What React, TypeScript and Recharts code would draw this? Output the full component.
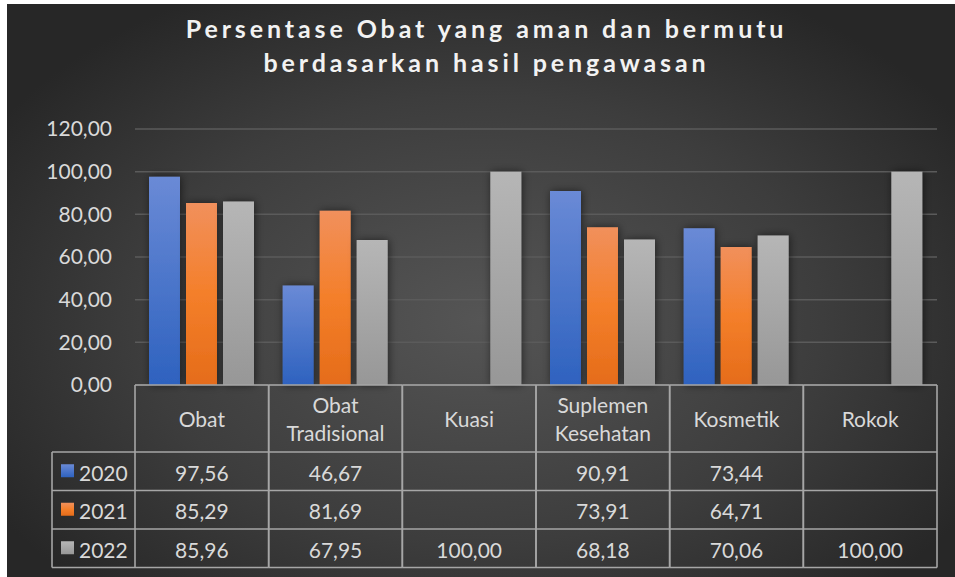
import React from "react";
import { BarChart, Bar, XAxis, YAxis, CartesianGrid } from "recharts";

const categories = ["Obat", "Obat Tradisional", "Kuasi", "Suplemen Kesehatan", "Kosmetik", "Rokok"];
const series2020 = [97.56, 46.67, null, 90.91, 73.44, null];
const series2021 = [85.29, 81.69, null, 73.91, 64.71, null];
const series2022 = [85.96, 67.95, 100.0, 68.18, 70.06, 100.0];
const yTicks = [0, 20, 40, 60, 80, 100, 120];
const seriesNames = ["2020", "2021", "2022"];

const data = categories.map((name, i) => ({
    name,
    y2020: series2020[i],
    y2021: series2021[i],
    y2022: series2022[i],
}));

const W = 955;
const H = 577;
const PLOT_LEFT = 135;
const PLOT_RIGHT = 937;
const TEXT = "#d9d9d9";
const LINE = "#a6a6a6";
const FONT = "Lato, 'Open Sans', sans-serif";
const seriesKeys = ["y2020", "y2021", "y2022"];
const swatch = ["url(#gBlue)", "url(#gOrange)", "url(#gGray)"];

const fmt = (v: number | null) => (v == null ? "" : v.toFixed(2).replace(".", ","));

// rows of the data table, measured from the top of the x axis
const HEADER_H = 67;
const ROW_H = 38.5;

function TableColumn(props: any) {
    const { x, y, index } = props;
    const bw = (PLOT_RIGHT - PLOT_LEFT) / categories.length;
    const left = x - bw / 2;
    const right = x + bw / 2;
    const lines = categories[index].split(" ");
    const rowsBottom = y + HEADER_H + ROW_H * 3;
    const lw = 1.6;
    return (
        <g fontFamily={FONT} fontSize={21} fill={TEXT}>
            {/* header */}
            {lines.map((t, k) => (
                <text
                    key={k}
                    x={x}
                    y={y + HEADER_H / 2 + (k - (lines.length - 1) / 2) * 28}
                    textAnchor="middle"
                    dominantBaseline="central"
                >
                    {t}
                </text>
            ))}
            {/* values */}
            {seriesKeys.map((k, r) => (
                <text
                    key={k}
                    x={x}
                    y={y + HEADER_H + ROW_H * r + ROW_H / 2 + 1}
                    textAnchor="middle"
                    dominantBaseline="central"
                >
                    {fmt(data[index][k as "y2020"])}
                </text>
            ))}
            {/* grid lines */}
            <line x1={left} x2={right} y1={y} y2={y} stroke={LINE} strokeWidth={lw} />
            {[0, 1, 2, 3].map((r) => (
                <line
                    key={r}
                    x1={left}
                    x2={right}
                    y1={y + HEADER_H + ROW_H * r}
                    y2={y + HEADER_H + ROW_H * r}
                    stroke={LINE}
                    strokeWidth={lw}
                />
            ))}
            <line x1={left} x2={left} y1={y} y2={rowsBottom} stroke={LINE} strokeWidth={lw} />
            <line x1={right} x2={right} y1={y} y2={rowsBottom} stroke={LINE} strokeWidth={lw} />
            {index === 0 && (
                <g>
                    {[0, 1, 2, 3].map((r) => (
                        <line
                            key={r}
                            x1={52}
                            x2={left}
                            y1={y + HEADER_H + ROW_H * r}
                            y2={y + HEADER_H + ROW_H * r}
                            stroke={LINE}
                            strokeWidth={lw}
                        />
                    ))}
                    <line x1={52} x2={52} y1={y + HEADER_H} y2={rowsBottom} stroke={LINE} strokeWidth={lw} />
                    {seriesNames.map((s, r) => {
                        const cy = y + HEADER_H + ROW_H * r + ROW_H / 2;
                        return (
                            <g key={s}>
                                <rect x={61} y={cy - 7} width={13} height={13} fill={swatch[r]} />
                                <text x={79} y={cy + 1} dominantBaseline="central">
                                    {s}
                                </text>
                            </g>
                        );
                    })}
                </g>
            )}
        </g>
    );
}

export default function App() {
    return (
        <div style={{ position: "absolute", left: 0, top: 0, width: W, height: H, background: "#fff" }}>
            <div
                style={{
                    position: "absolute",
                    left: 7,
                    top: 4,
                    width: W - 7,
                    height: H - 4,
                    background:
                        "radial-gradient(ellipse 60% 65% at 50% 55%, #555555 0%, #3d3d3d 60%, #272727 100%)",
                }}
            />
            <div
                style={{
                    position: "absolute",
                    left: 0,
                    top: 11,
                    width: W,
                    textAlign: "center",
                    color: "#f2f2f2",
                    fontFamily: FONT,
                    fontWeight: 700,
                    fontSize: 25,
                    letterSpacing: 3.9,
                    lineHeight: "34px",
                    paddingLeft: 18,
                    boxSizing: "border-box",
                }}
            >
                Persentase Obat yang aman dan bermutu
                <br />
                berdasarkan hasil pengawasan
            </div>
            <div style={{ position: "absolute", left: 0, top: 0 }}>
                <BarChart
                    width={W}
                    height={H}
                    data={data}
                    margin={{ top: 129, right: W - PLOT_RIGHT, bottom: 0, left: 0 }}
                    barSize={31}
                    barGap={6}
                >
                    <defs>
                        <linearGradient id="gBlue" x1="0" y1="0" x2="0" y2="1">
                            <stop offset="0%" stopColor="#6a8ad6" />
                            <stop offset="100%" stopColor="#2e62bf" />
                        </linearGradient>
                        <linearGradient id="gOrange" x1="0" y1="0" x2="0" y2="1">
                            <stop offset="0%" stopColor="#f1905c" />
                            <stop offset="50%" stopColor="#f47f2a" />
                            <stop offset="100%" stopColor="#e56c1a" />
                        </linearGradient>
                        <linearGradient id="gGray" x1="0" y1="0" x2="0" y2="1">
                            <stop offset="0%" stopColor="#b6b6b6" />
                            <stop offset="100%" stopColor="#979797" />
                        </linearGradient>
                        <filter id="barShadow" x="-40%" y="-10%" width="180%" height="120%">
                            <feDropShadow dx="1" dy="0" stdDeviation="4" floodColor="#000" floodOpacity="0.55" />
                        </filter>
                    </defs>
                    <CartesianGrid vertical={false} stroke="#5b5b5b" strokeWidth={1.5} />
                    <XAxis
                        dataKey="name"
                        height={H - 385}
                        axisLine={false}
                        tickLine={false}
                        tickSize={0}
                        tickMargin={0}
                        interval={0}
                        tick={<TableColumn />}
                    />
                    <YAxis
                        width={PLOT_LEFT}
                        domain={[0, 120]}
                        ticks={yTicks}
                        axisLine={false}
                        tickLine={false}
                        tickSize={0}
                        tickMargin={23}
                        tickFormatter={(v: number) => fmt(v)}
                        tick={{ fill: TEXT, fontSize: 21, fontFamily: FONT }}
                    />
                    <Bar dataKey="y2020" name="2020" fill="url(#gBlue)" filter="url(#barShadow)" isAnimationActive={false} />
                    <Bar dataKey="y2021" name="2021" fill="url(#gOrange)" filter="url(#barShadow)" isAnimationActive={false} />
                    <Bar dataKey="y2022" name="2022" fill="url(#gGray)" filter="url(#barShadow)" isAnimationActive={false} />
                </BarChart>
            </div>
        </div>
    );
}
